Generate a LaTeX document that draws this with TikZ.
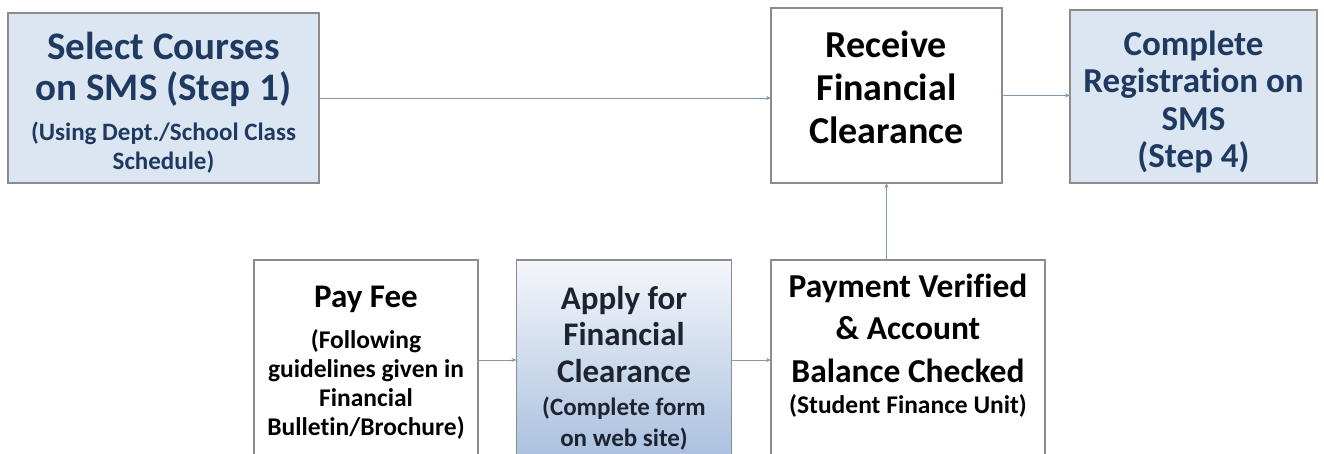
\documentclass[tikz,border=0pt]{standalone}
\usepackage{fontspec}
\setmainfont{Carlito}[Ligatures=NoCommon]
\usetikzlibrary{arrows.meta}
\definecolor{boxblue}{HTML}{DCE6F2}
\definecolor{navy}{HTML}{1F3A60}
\definecolor{darktext}{HTML}{1E2330}
\definecolor{bordergray}{HTML}{8C8C8C}
\definecolor{arrowblue}{HTML}{8497B0}
\definecolor{gradtop}{HTML}{F4F7FB}
\definecolor{gradbot}{HTML}{A9C0DF}
\newcommand{\bxtext}[3]{\parbox[c][#1][t]{#2}{\centering\bfseries #3}}
\begin{document}
\begin{tikzpicture}[x=1pt,y=-1pt,
  box/.style={draw=bordergray, line width=1.6pt, inner sep=0pt, outer sep=0pt},
  bluebox/.style={box, fill=boxblue, text=navy},
  whitebox/.style={box, fill=white, text=black},
  gradbox/.style={box, top color=gradtop, bottom color=gradbot, text=darktext},
  arr/.style={draw=arrowblue, line width=1pt, -{Stealth[length=5pt,width=4pt]}}]
\clip (0,0) rectangle (1324,453);
\fill[white] (0,0) rectangle (1324,453);

\node[bluebox, minimum width=311pt, minimum height=170pt] (select) at (163.5,98)
  {\bxtext{170pt}{305pt}{\vspace*{19pt}\fontsize{39}{41}\selectfont Select Courses\\on SMS (Step 1)\par
   \vspace{11pt}\fontsize{25}{29}\selectfont (Using Dept./School Class\\Schedule)\par}};

\node[whitebox, minimum width=231pt, minimum height=175pt] (receive) at (886.5,95.5)
  {\bxtext{175pt}{225pt}{\vspace*{23pt}\fontsize{38}{43}\selectfont Receive\\Financial\\Clearance\par}};

\node[bluebox, minimum width=247pt, minimum height=173pt] (complete) at (1193.5,96.5)
  {\bxtext{173pt}{241pt}{\vspace*{21pt}\fontsize{35}{37.3}\selectfont Complete\\Registration on\\SMS\\(Step 4)\par}};

\node[whitebox, minimum width=224pt, minimum height=200pt] (pay) at (366,360)
  {\bxtext{200pt}{218pt}{\vspace*{26pt}\fontsize{33}{36}\selectfont Pay Fee\par
   \vspace{12pt}\fontsize{25.5}{29}\selectfont (Following\\guidelines given in\\Financial\\Bulletin/Brochure)\par}};

\node[gradbox, minimum width=215pt, minimum height=200pt] (apply) at (624,360)
  {\bxtext{200pt}{209pt}{\vspace*{26pt}\fontsize{33}{36.5}\selectfont Apply for\\Financial\\Clearance\par
   \vspace{2pt}\fontsize{25}{31}\selectfont (Complete form\\on web site)\par}};

\node[whitebox, minimum width=274pt, minimum height=200pt] (payment) at (908,360)
  {\bxtext{200pt}{268pt}{\vspace*{13.5pt}\fontsize{33.5}{42.5}\selectfont Payment Verified\\\&~Account\\Balance Checked\par
   \vspace{2pt}\fontsize{25.5}{29}\selectfont (Student Finance Unit)\par}};

\draw[arr] (select.east) -- (select.east -| receive.west);
\draw[arr] (receive.east) -- (receive.east -| complete.west);
\draw[arr] (pay.east) -- (apply.west);
\draw[arr] (apply.east) -- (payment.west);
\draw[arr] (payment.north -| receive.south) -- (receive.south);
\end{tikzpicture}
\end{document}
